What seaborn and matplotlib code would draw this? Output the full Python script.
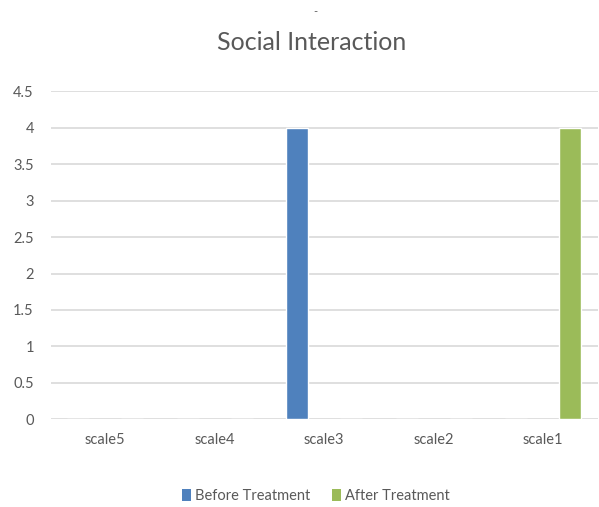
import matplotlib
matplotlib.use("Agg")
import matplotlib.pyplot as plt
from matplotlib.patches import Patch
import seaborn as sns
import pandas as pd

categories = ["scale5", "scale4", "scale3", "scale2", "scale1"]
before_treatment = [0, 0, 4, 0, 0]
after_treatment = [0, 0, 0, 0, 4]
series_names = ["Before Treatment", "After Treatment"]
colors = ["#4F81BD", "#9BBB59"]
yticks = [0, 0.5, 1, 1.5, 2, 2.5, 3, 3.5, 4, 4.5]

df = pd.DataFrame({
    "category": categories * 2,
    "value": before_treatment + after_treatment,
    "series": [series_names[0]] * len(categories) + [series_names[1]] * len(categories),
})

sns.set_theme(style="white")
plt.rcParams["font.family"] = ["Lato", "DejaVu Sans"]
text_color = "#595959"
grid_color = "#D9D9D9"

fig = plt.figure(figsize=(5.99, 5.07), dpi=100)
ax = fig.add_axes([50.5 / 599, 87.7 / 507, (598 - 50.5) / 599, (419.3 - 91.3) / 507])

sns.barplot(data=df, x="category", y="value", hue="series", order=categories,
            hue_order=series_names, palette=colors, width=0.986, gap=0.6,
            saturation=1, legend=False, ax=ax, zorder=3)

ax.set_ylim(0, 4.5)
ax.set_xlim(-0.5, len(categories) - 0.5)
ax.set_yticks(yticks)
ax.set_yticklabels([f"{t:g}" for t in yticks])
ax.yaxis.grid(True, color=grid_color, linewidth=1.2, zorder=0)
ax.set_axisbelow(True)
for s in ["top", "right", "left", "bottom"]:
    ax.spines[s].set_visible(False)
ax.tick_params(axis="both", length=0, colors=text_color, labelsize=10.5)
ax.tick_params(axis="x", pad=10)
ax.tick_params(axis="y", pad=12)
ax.set_xlabel("")
ax.set_ylabel("")

fig.text(312 / 599, 1 - 42 / 507, "Social Interaction",
         ha="center", va="center", fontsize=18, color=text_color)
fig.text(315 / 599, 1 - 12 / 507, "-", ha="center", va="center",
         fontsize=8, color=text_color)

handles = [Patch(facecolor=c, edgecolor="none") for c in colors]
fig.legend(handles, series_names, loc="center", bbox_to_anchor=(316 / 599, 1 - 496 / 507),
           ncol=2, frameon=False, fontsize=10.5, labelcolor=text_color,
           handlelength=0.6, handleheight=0.9, handletextpad=0.3, columnspacing=1.5)

fig.savefig("out.png", dpi=100)
